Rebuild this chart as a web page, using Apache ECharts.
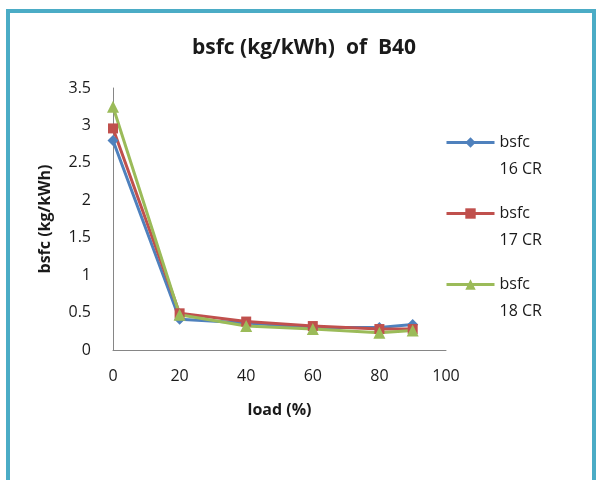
<!DOCTYPE html>
<html>
<head>
<meta charset="utf-8">
<script src="https://cdn.jsdelivr.net/npm/echarts@6/dist/echarts.min.js"></script>
<style>
  html, body { margin: 0; padding: 0; background: #fff; }
  #chart { width: 596px; height: 480px; }
</style>
</head>
<body>
<div id="chart"></div>
<script>
// load (%) on the x axis
var loads = [0, 20, 40, 60, 80, 90];
// bsfc (kg/kWh) for each compression ratio
var cr16 = [2.80, 0.41, 0.36, 0.30, 0.30, 0.34];
var cr17 = [2.96, 0.49, 0.38, 0.32, 0.28, 0.28];
var cr18 = [3.25, 0.47, 0.32, 0.28, 0.23, 0.26];
var seriesNames = ['bsfc 16 CR', 'bsfc 17 CR', 'bsfc 18 CR'];

function pairs(ys) {
  return loads.map(function (x, i) { return [x, ys[i]]; });
}

var font = '"Open Sans", sans-serif';
var txt = '#1a1a1a';
var myChart = echarts.init(document.getElementById('chart'));

var option = {
  backgroundColor: '#fff',
  animation: false,
  graphic: [{
    type: 'rect',
    shape: { x: 8, y: 11, width: 586, height: 500 },
    style: { fill: 'none', stroke: '#4bacc6', lineWidth: 4 }
  }],
  title: {
    text: 'bsfc (kg/kWh)  of  B40',
    left: 299, top: 33, textAlign: 'center',
    textStyle: { fontFamily: font, fontSize: 21, fontWeight: 'bold', color: txt }
  },
  legend: {
    orient: 'vertical',
    left: 445, top: 102, padding: 0,
    itemWidth: 48, itemHeight: 13, itemGap: -10,
    data: seriesNames,
    lineStyle: { width: 3 },
    // blank first line keeps "bsfc" level with the legend line
    formatter: function (n) { return '\u00a0\n' + n.replace(' ', '\n'); },
    textStyle: { fontFamily: font, fontSize: 16, color: txt, lineHeight: 27 }
  },
  grid: { left: 113, top: 88, right: 150, bottom: 130 },
  xAxis: {
    type: 'value', min: 0, max: 100, interval: 20,
    name: 'load (%)', nameLocation: 'middle', nameGap: 52,
    nameTextStyle: { fontFamily: font, fontSize: 16, fontWeight: 'bold', color: txt },
    axisLine: { lineStyle: { color: '#868686', width: 1 } },
    axisTick: { show: false },
    axisLabel: { fontFamily: font, fontSize: 16, color: txt, margin: 18 },
    splitLine: { show: false }
  },
  yAxis: {
    type: 'value', min: 0, max: 3.5, interval: 0.5,
    name: 'bsfc (kg/kWh)', nameLocation: 'middle', nameGap: 60,
    nameTextStyle: { fontFamily: font, fontSize: 16, fontWeight: 'bold', color: txt },
    axisLine: { show: true, lineStyle: { color: '#868686', width: 1 } },
    axisTick: { show: false },
    axisLabel: { fontFamily: font, fontSize: 16, color: txt, margin: 22 },
    splitLine: { show: false }
  },
  series: [
    {
      name: seriesNames[0], type: 'line', data: pairs(cr16),
      symbol: 'diamond', symbolSize: 11,
      lineStyle: { width: 3, color: '#4f81bd' },
      itemStyle: { color: '#4f81bd' }
    },
    {
      name: seriesNames[1], type: 'line', data: pairs(cr17),
      symbol: 'rect', symbolSize: 10,
      lineStyle: { width: 3, color: '#c0504d' },
      itemStyle: { color: '#c0504d' }
    },
    {
      name: seriesNames[2], type: 'line', data: pairs(cr18),
      symbol: 'triangle', symbolSize: 12,
      lineStyle: { width: 3, color: '#9bbb59' },
      itemStyle: { color: '#9bbb59' }
    }
  ]
};

myChart.setOption(option);
</script>
</body>
</html>
